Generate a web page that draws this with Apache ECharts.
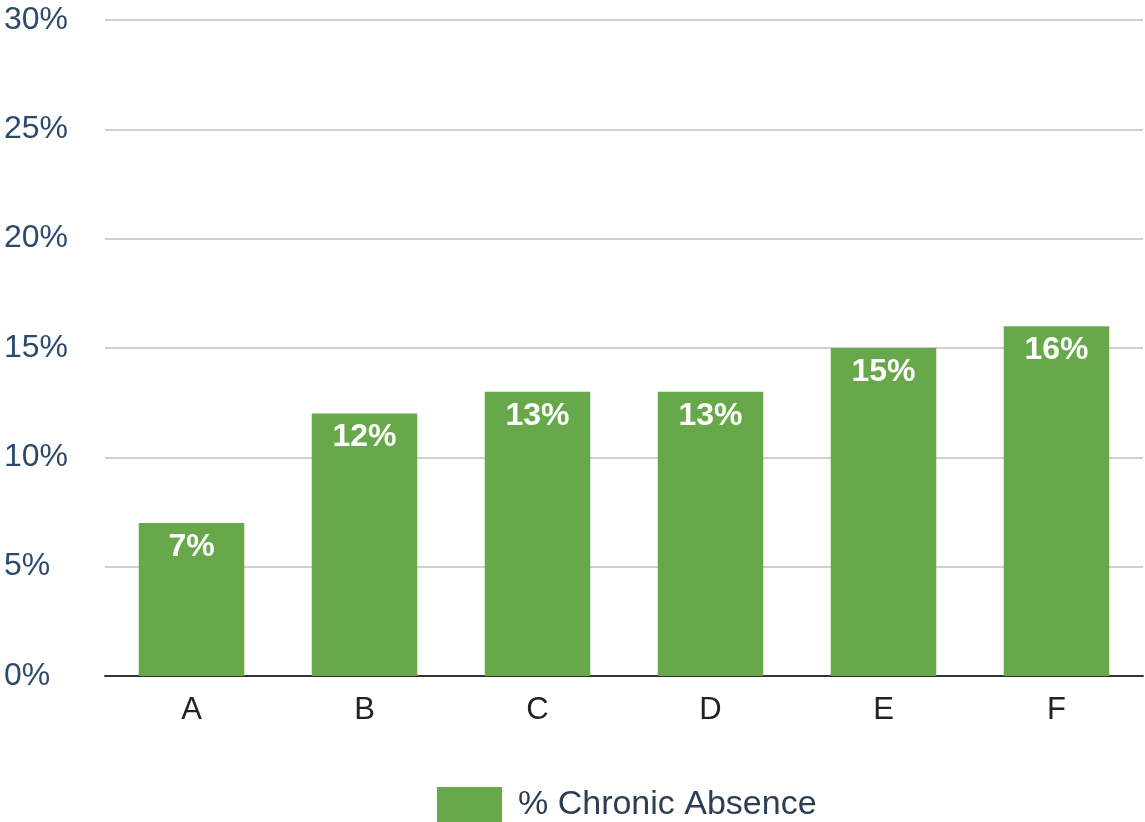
<!DOCTYPE html>
<html>
<head>
<meta charset="utf-8">
<script src="https://cdn.jsdelivr.net/npm/echarts@6/dist/echarts.min.js"></script>
<style>
  html, body { margin: 0; padding: 0; background: #fff; }
  #chart { width: 1145px; height: 822px; }
</style>
</head>
<body>
<div id="chart"></div>
<script>
const categories = ['A', 'B', 'C', 'D', 'E', 'F'];
const chronicAbsence = [7, 12, 13, 13, 15, 16];
const seriesName = '% Chronic Absence';

const FONT = "'Liberation Sans', Arial, sans-serif";
const chart = echarts.init(document.getElementById('chart'), null, { renderer: 'canvas' });

chart.setOption({
  animation: false,
  backgroundColor: '#ffffff',
  grid: { left: 105, right: 2, top: 20, bottom: 146, containLabel: false },
  legend: {
    top: 787,
    left: 437,
    padding: 0,
    itemWidth: 65,
    itemHeight: 36,
    icon: 'rect',
    textStyle: { fontFamily: FONT, fontSize: 34, color: '#2d3e52', padding: [0, 0, 0, 11] },
    data: [seriesName]
  },
  xAxis: {
    type: 'category',
    data: categories,
    axisLine: { lineStyle: { color: '#333333', width: 2 } },
    axisTick: { show: false },
    axisLabel: { fontFamily: FONT, fontSize: 31, color: '#222222', margin: 19 }
  },
  yAxis: {
    type: 'value',
    min: 0,
    max: 30,
    interval: 5,
    axisLine: { show: false },
    axisTick: { show: false },
    splitLine: { lineStyle: { color: '#cfcfcf', width: 2 } },
    axisLabel: {
      fontFamily: FONT,
      fontSize: 32,
      color: '#2c4a6e',
      align: 'left',
      margin: 101,
      formatter: v => v + '%'
    }
  },
  series: [{
    name: seriesName,
    type: 'bar',
    data: chronicAbsence,
    barWidth: '61%',
    itemStyle: { color: '#66a84a' },
    label: {
      show: true,
      position: 'insideTop',
      distance: 8,
      formatter: p => p.value + '%',
      fontFamily: FONT,
      fontWeight: 'bold',
      fontSize: 32,
      color: '#ffffff'
    }
  }]
});
</script>
</body>
</html>
